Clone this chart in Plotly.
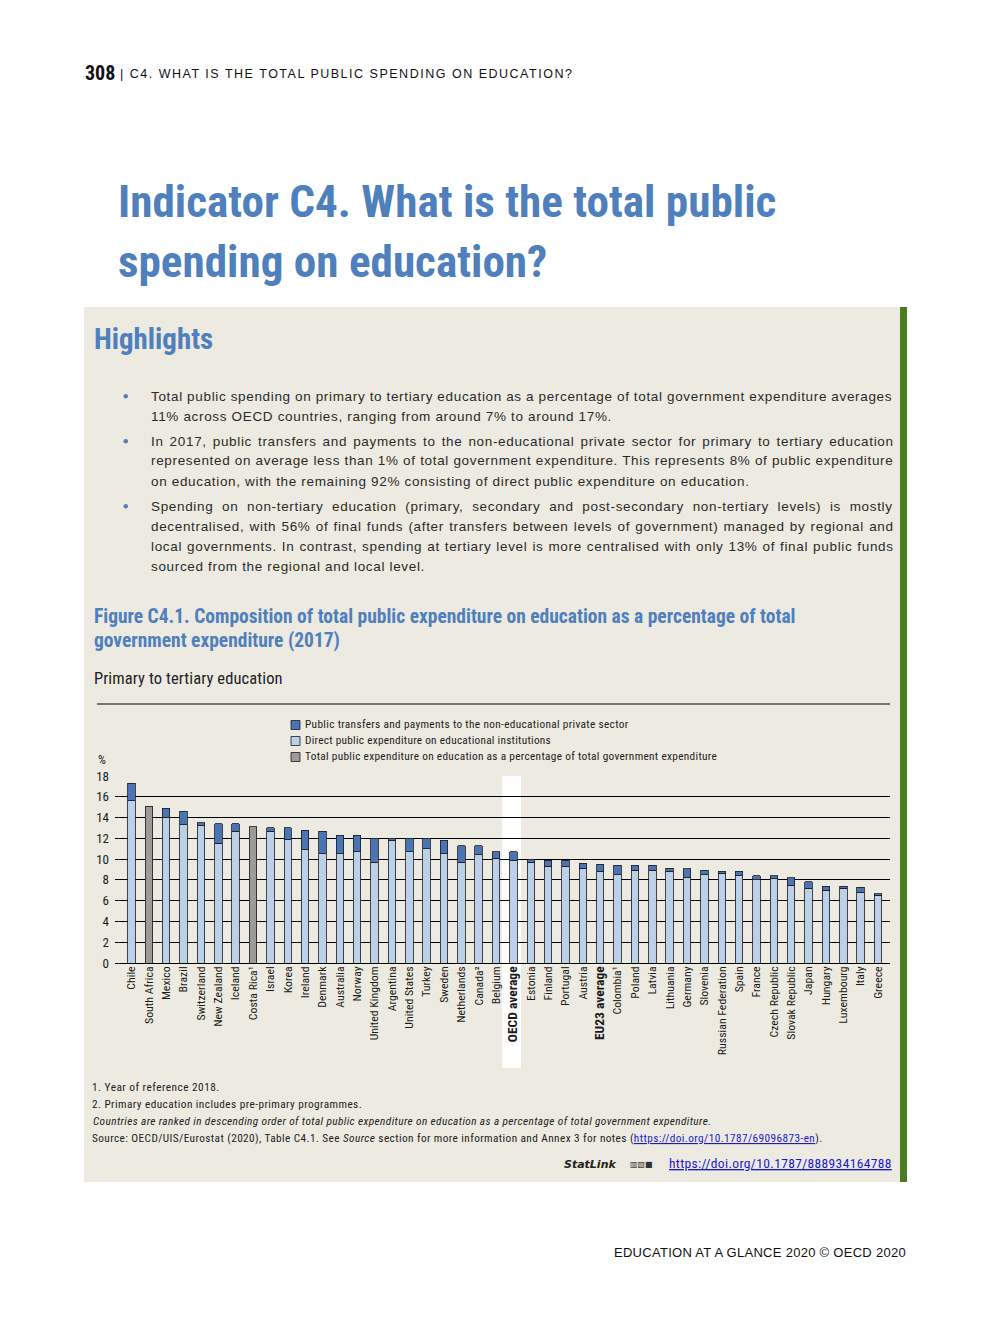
import struct
import subprocess
import plotly.graph_objects as go

W, H = 992, 1323

countries = ["Chile", "South Africa", "Mexico", "Brazil", "Switzerland", "New Zealand", "Iceland",
             "Costa Rica¹", "Israel", "Korea", "Ireland", "Denmark", "Australia", "Norway",
             "United Kingdom", "Argentina", "United States", "Turkey", "Sweden", "Netherlands",
             "Canada²", "Belgium", "OECD average", "Estonia", "Finland", "Portugal", "Austria",
             "EU23 average", "Colombia¹", "Poland", "Latvia", "Lithuania", "Germany", "Slovenia",
             "Russian Federation", "Spain", "France", "Czech Republic", "Slovak Republic", "Japan",
             "Hungary", "Luxembourg", "Italy", "Greece"]

total = [17.3, 15.1, 14.9, 14.6, 13.5, 13.4, 13.4, 13.1, 13.0, 13.0, 12.8, 12.7, 12.3, 12.3,
         12.0, 12.0, 12.0, 12.0, 11.8, 11.3, 11.3, 10.7, 10.7, 10.0, 9.9, 9.9, 9.6, 9.5,
         9.4, 9.4, 9.4, 9.1, 9.05, 8.95, 8.85, 8.85, 8.4, 8.4, 8.2, 7.8, 7.4, 7.4, 7.3, 6.65]

direct = [15.6, None, 14.05, 13.3, 13.2, 11.55, 12.7, None, 12.7, 11.9, 10.9, 10.5, 10.5, 10.7,
          9.7, 11.8, 10.7, 11.0, 10.5, 9.7, 10.4, 10.1, 9.9, 9.7, 9.3, 9.3, 9.1, 8.85,
          8.5, 8.95, 8.95, 8.85, 8.2, 8.5, 8.65, 8.4, 8.0, 8.1, 7.5, 7.2, 7.0, 7.2, 6.8, 6.5]

no_breakdown = ["South Africa", "Costa Rica¹"]

y_ticks = [0, 2, 4, 6, 8, 10, 12, 14, 16, 18]

legend_labels = ["Public transfers and payments to the non-educational private sector",
                 "Direct public expenditure on educational institutions",
                 "Total public expenditure on education as a percentage of total government expenditure"]

C_DARK = "#4a74b4"
C_LIGHT = "#bcd0ea"
C_GREY = "#9b9b9b"
C_BEIGE = "#edeae1"
C_GREEN = "#4a7d1f"
C_TITLE = "#4f7fbd"
COND = "Roboto Condensed, Archivo Narrow, DejaVu Sans Condensed, sans-serif"
SANS = "Liberation Sans, Arimo, Arial, sans-serif"


# ---------- minimal font metric reader (for fitting text widths) ----------
def _font_file(pattern):
    try:
        return subprocess.run(["fc-match", "-f", "%{file}", pattern], capture_output=True,
                              text=True).stdout.strip()
    except Exception:
        return ""


def _load_metrics(path):
    data = open(path, "rb").read()
    base = 0
    if data[:4] == b"ttcf":
        base = struct.unpack(">I", data[12:16])[0]
    num = struct.unpack(">H", data[base + 4:base + 6])[0]
    tables = {}
    for i in range(num):
        tag, _, off, ln = struct.unpack(">4sIII", data[base + 12 + 16 * i:base + 28 + 16 * i])
        tables[tag.decode("latin1")] = off
    upem = struct.unpack(">H", data[tables["head"] + 18:tables["head"] + 20])[0]
    nhm = struct.unpack(">H", data[tables["hhea"] + 34:tables["hhea"] + 36])[0]
    hm = tables["hmtx"]
    adv = [struct.unpack(">H", data[hm + 4 * i:hm + 4 * i + 2])[0] for i in range(nhm)]
    cm = tables["cmap"]
    ncm = struct.unpack(">H", data[cm + 2:cm + 4])[0]
    sub = None
    for i in range(ncm):
        pid, eid, off = struct.unpack(">HHI", data[cm + 4 + 8 * i:cm + 12 + 8 * i])
        fmt = struct.unpack(">H", data[cm + off:cm + off + 2])[0]
        if fmt == 4 and (pid == 3 or pid == 0):
            sub = cm + off
            break
    segx2 = struct.unpack(">H", data[sub + 6:sub + 8])[0]
    seg = segx2 // 2
    ends = struct.unpack(">%dH" % seg, data[sub + 14:sub + 14 + segx2])
    starts = struct.unpack(">%dH" % seg, data[sub + 16 + segx2:sub + 16 + 2 * segx2])
    deltas = struct.unpack(">%dh" % seg, data[sub + 16 + 2 * segx2:sub + 16 + 3 * segx2])
    ro_pos = sub + 16 + 3 * segx2
    ros = struct.unpack(">%dH" % seg, data[ro_pos:ro_pos + segx2])

    def glyph(c):
        for i in range(seg):
            if starts[i] <= c <= ends[i]:
                if ros[i] == 0:
                    return (c + deltas[i]) & 0xFFFF
                addr = ro_pos + 2 * i + ros[i] + 2 * (c - starts[i])
                g = struct.unpack(">H", data[addr:addr + 2])[0]
                return (g + deltas[i]) & 0xFFFF if g else 0
        return 0

    def width(s):
        tot = 0
        for ch in s:
            g = glyph(ord(ch))
            tot += adv[g] if g < len(adv) else adv[-1]
        return tot / upem

    return width


def _metrics(pattern, fallback):
    try:
        return _load_metrics(_font_file(pattern))
    except Exception:
        return lambda s: fallback * len(s)


W_SANS = _metrics("Liberation Sans", 0.52)
W_COND = _metrics("Roboto Condensed", 0.44)
W_COND_B = _metrics("Roboto Condensed:bold", 0.47)


def px(x):
    return (x - 8) / W


def py(y):
    return 1 - (y - 8) / H


transfers = [None if d is None else round(t - d, 3) for t, d in zip(total, direct)]
grey = [t if c in no_breakdown else None for c, t in zip(countries, total)]

ticktext = []
for c in countries:
    if "average" in c:
        ticktext.append("<span style='font-size:13.5px'><b>" + c + "</b></span>")
    else:
        ticktext.append(c)

fig = go.Figure()
bar_line = dict(color="#1a1a1a", width=0.8)
fig.add_trace(go.Bar(x=countries, y=direct, marker=dict(color=C_LIGHT, line=bar_line),
                     width=0.43, name=legend_labels[1]))
fig.add_trace(go.Bar(x=countries, y=transfers, marker=dict(color=C_DARK, line=bar_line),
                     width=0.43, name=legend_labels[0]))
fig.add_trace(go.Bar(x=countries, y=grey, marker=dict(color=C_GREY, line=bar_line),
                     width=0.43, name=legend_labels[2]))

x0, x1 = 115, 890
ytop, ybot = 776, 963
fig.update_layout(
    width=W, height=H, margin=dict(l=0, r=0, t=0, b=0, autoexpand=False),
    paper_bgcolor="white", plot_bgcolor="rgba(0,0,0,0)",
    barmode="stack", showlegend=False,
    xaxis=dict(domain=[px(x0), px(x1)], range=[-0.95, 43.69], tickmode="array",
               tickvals=countries, ticktext=ticktext, tickangle=-90, automargin=False,
               tickfont=dict(family=COND, size=11.8, color="#1a1a1a"), showgrid=False,
               ticks="", showline=False, fixedrange=True),
    yaxis=dict(domain=[py(ybot), py(ytop)], range=[0, 18], tickvals=y_ticks, automargin=False,
               tickfont=dict(family=COND, size=13, color="#1a1a1a"), showgrid=True,
               gridcolor="black", gridwidth=1, zeroline=True, zerolinecolor="black",
               zerolinewidth=1, ticks="", showline=False, fixedrange=True,
               ticklabelstandoff=5),
)

shapes = []
shapes.append(dict(type="rect", xref="paper", yref="paper", x0=px(84), x1=px(900), y0=py(1182),
                   y1=py(307), fillcolor=C_BEIGE, line=dict(width=0), layer="below"))
shapes.append(dict(type="rect", xref="paper", yref="paper", x0=px(900), x1=px(907), y0=py(1182),
                   y1=py(307), fillcolor=C_GREEN, line=dict(width=0), layer="below"))
shapes.append(dict(type="rect", xref="paper", yref="paper", x0=px(502), x1=px(521), y0=py(1068),
                   y1=py(776), fillcolor="white", line=dict(width=0), layer="below"))
shapes.append(dict(type="line", xref="paper", yref="paper", x0=px(97), x1=px(890), y0=py(704),
                   y1=py(704), line=dict(color="black", width=1)))
leg_cols = [C_DARK, C_LIGHT, C_GREY]
for i, col in enumerate(leg_cols):
    yc = 725 + 16 * i
    shapes.append(dict(type="rect", xref="paper", yref="paper", x0=px(291), x1=px(300),
                       y0=py(yc + 4.5), y1=py(yc - 4.5), fillcolor=col,
                       line=dict(color="#1a1a1a", width=0.8)))
for yb in [396, 441, 506]:
    shapes.append(dict(type="circle", xref="paper", yref="paper", x0=px(123.5), x1=px(128),
                       y0=py(yb + 2.5), y1=py(yb - 2), fillcolor=C_TITLE, line=dict(width=0)))
fig.update_layout(shapes=shapes)

ann = []


def text(x, y, s, size, family=SANS, color="#222", xanchor="left", style=""):
    if style:
        s = "<span style='" + style + "'>" + s + "</span>"
    ann.append(dict(x=px(x - 2 if xanchor == "left" else x + 2), y=py(y), xref="paper", yref="paper",
                    text=s, showarrow=False, xanchor=xanchor, yanchor="middle",
                    font=dict(family=family, size=size, color=color)))


def fit_text(x, y, s, plain, size, target, wfun, family, color="#222", xanchor="left",
             justify=False, ls=None):
    nat = wfun(plain) * size
    n = len(plain)
    if ls is None:
        ls = (target - nat) / max(n - 1, 1)
    style = "letter-spacing:%.3fpx" % ls
    if justify:
        spaces = plain.count(" ")
        ws = (target - nat - ls * (n - 1)) / max(spaces, 1)
        style += ";word-spacing:%.3fpx" % ws
    text(x, y, s, size, family=family, color=color, xanchor=xanchor, style=style)


def fit_size(plain, target, wfun):
    return target / wfun(plain)


# header
text(85, 73, "<b>308</b>", min(fit_size("308", 30, W_COND_B), 20), family=COND, color="#111")
hdr = "| C4. WHAT IS THE TOTAL PUBLIC SPENDING ON EDUCATION?"
fit_text(120, 74, hdr, hdr, 12.5, 456, W_SANS, SANS, color="#111")

# main title
t1 = "Indicator C4. What is the total public"
t2 = "spending on education?"
ts = min(fit_size(t1, 658, W_COND_B), 48) * 0.985
text(118, 201, "<b>" + t1 + "</b>", ts, family=COND, color=C_TITLE)
text(118, 262, "<b>" + t2 + "</b>", ts, family=COND, color=C_TITLE)

# highlights
hs = min(fit_size("Highlights", 119, W_COND_B), 31) * 0.975
text(94, 339, "<b>Highlights</b>", hs, family=COND, color=C_TITLE)
bullets = [
    (396, "Total public spending on primary to tertiary education as a percentage of total government expenditure averages", True),
    (416, "11% across OECD countries, ranging from around 7% to around 17%.", False),
    (441, "In 2017, public transfers and payments to the non-educational private sector for primary to tertiary education", True),
    (461, "represented on average less than 1% of total government expenditure. This represents 8% of public expenditure", True),
    (481, "on education, with the remaining 92% consisting of direct public expenditure on education.", False),
    (506, "Spending on non-tertiary education (primary, secondary and post-secondary non-tertiary levels) is mostly", True),
    (526, "decentralised, with 56% of final funds (after transfers between levels of government) managed by regional and", True),
    (546, "local governments. In contrast, spending at tertiary level is more centralised with only 13% of final public funds", True),
    (566, "sourced from the regional and local level.", False),
]
BS = 13.5
last_targets = {416: 615 - 151, 481: 748 - 151, 566: 423 - 151}
ls_vals = [(last_targets[y] - W_SANS(s) * BS) / (len(s) - 1) for y, s, j in bullets if not j]
ls_b = max(0.0, sum(ls_vals) / len(ls_vals))
for y, s, j in bullets:
    if j:
        fit_text(151, y, s, s, BS, 742, W_SANS, SANS, color="#2a2a2a", justify=True, ls=ls_b)
    else:
        fit_text(151, y, s, s, BS, 0, W_SANS, SANS, color="#2a2a2a", ls=ls_b)

# figure title
f1 = "Figure C4.1. Composition of total public expenditure on education as a percentage of total"
f2 = "government expenditure (2017)"
fs = min(fit_size(f1, 702, W_COND_B), 21) * 0.986
text(94, 617, "<b>" + f1 + "</b>", fs, family=COND, color=C_TITLE)
text(94, 640, "<b>" + f2 + "</b>", fs, family=COND, color=C_TITLE)
sub = "Primary to tertiary education"
fit_text(94, 678, sub, sub, 16.5, 188, W_COND, COND, color="#222")

# legend labels
leg_targets = [324, 246, 413]
for i, lab in enumerate(legend_labels):
    fit_text(305, 724 + 16 * i, lab, lab, 11.3, leg_targets[i], W_COND, COND)

text(98, 760, "%", 12.5, family=COND)

# footnotes
n1 = "1. Year of reference 2018."
fit_text(92, 1087, n1, n1, 11.3, 128, W_COND, COND)
n2 = "2. Primary education includes pre-primary programmes."
fit_text(92, 1104, n2, n2, 11.3, 270, W_COND, COND)
n3 = "Countries are ranked in descending order of total public expenditure on education as a percentage of total government expenditure."
fit_text(93, 1121, "<i>" + n3 + "</i>", n3, 11.3, 636, W_COND, COND)
n4a = "Source: OECD/UIS/Eurostat (2020), Table C4.1. See "
n4b = "https://doi.org/10.1787/69096873-en"
n4_plain = n4a + "Source section for more information and Annex 3 for notes (" + n4b + ")."
n4 = (n4a + "<i>Source</i> section for more information and Annex 3 for notes (<span style='fill:#1a1acc'><u>"
      + n4b + "</u></span>).")
fit_text(92, 1138, n4, n4_plain, 11.3, 734, W_COND, COND)

# StatLink
text(564, 1164, "<b><i>StatLink</i></b>", 11, family="DejaVu Sans", color="#222")
text(630, 1164, "<b>▥▧■</b>", 8, family="DejaVu Sans", color="#333")
lk = "https://doi.org/10.1787/888934164788"
fit_text(669, 1163, "<u>" + lk + "</u>", lk, 13.5, 224, W_COND, COND, color="#1a1acc")

# footer
ft = "EDUCATION AT A GLANCE 2020 © OECD 2020"
fit_text(614, 1252, ft, ft, 13, 296, W_SANS, SANS, color="#111")

fig.update_layout(annotations=ann)
fig.write_html("out.html")
